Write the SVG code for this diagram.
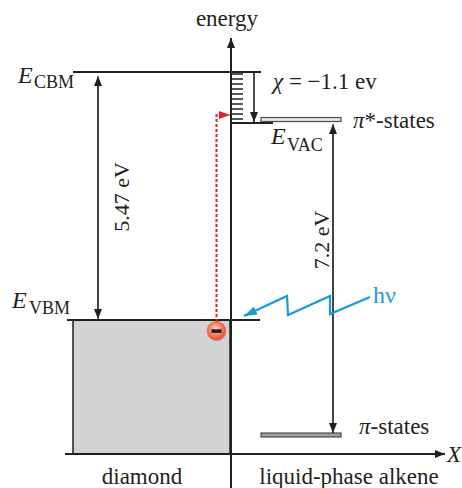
<svg xmlns="http://www.w3.org/2000/svg" width="462" height="488" viewBox="0 0 462 488">
<style>
text{font-family:"Liberation Serif","Times New Roman",serif;fill:#231f20}
.t{font-size:23px}
.s{font-size:18px}
.i{font-style:italic}
.ln{stroke:#231f20;fill:none}
.ax{stroke:#231f20;stroke-width:2;fill:none}
.thin{stroke:#231f20;stroke-width:1.2;fill:none}
</style>
<defs>
<marker id="ah" markerUnits="userSpaceOnUse" markerWidth="10" markerHeight="10" viewBox="0 0 10 10" refX="10" refY="5" orient="auto"><path d="M0,1 L10,5 L0,9 z" fill="#231f20"/></marker>
<marker id="ahr" markerUnits="userSpaceOnUse" markerWidth="11" markerHeight="10" viewBox="0 0 11 10" refX="11" refY="5" orient="auto"><path d="M0,1 L11,5 L0,9 z" fill="#e8202a"/></marker>
<marker id="ahb" markerUnits="userSpaceOnUse" markerWidth="13" markerHeight="11" viewBox="0 0 13 11" refX="13" refY="5.5" orient="auto"><path d="M0,1 L13,5.5 L0,10 z" fill="#1b9ad6"/></marker>
<radialGradient id="eg" cx="0.45" cy="0.4" r="0.6">
<stop offset="0" stop-color="#fcd3c2"/>
<stop offset="0.6" stop-color="#f07a5a"/>
<stop offset="1" stop-color="#e2482c"/>
</radialGradient>
</defs>

<g id="diamond-box">
<rect x="73" y="320" width="157" height="134" fill="#d1d3d4" stroke="#231f20" stroke-width="1.5"/>
</g>

<g id="axes">
<line class="ax" x1="231" y1="488" x2="231" y2="38" marker-end="url(#ah)"/>
<line class="ax" x1="65" y1="454" x2="445" y2="454" marker-end="url(#ah)"/>
<text class="t" x="227" y="26" text-anchor="middle">energy</text>
<text class="t i" x="447" y="462">X</text>
</g>

<g id="cbm">
<line class="ln" stroke-width="1.8" x1="73" y1="72" x2="261" y2="72"/>
<text class="i" x="18" y="83" style="font-size:24px">E</text>
<text class="s" x="34" y="88">CBM</text>
<path class="ln" stroke-width="1.5" d="M231,74h12M231,79h12M231,84h12M231,89h12M231,94h12M231,99h12M231,104h12M231,109h12M231,114h12M231,119h12"/>
</g>

<g id="vbm">
<line class="ln" stroke-width="1.8" x1="67" y1="320" x2="260" y2="320"/>
<text class="i" x="12" y="308" style="font-size:24px">E</text>
<text class="s" x="29" y="314">VBM</text>
</g>

<g id="evac">
<line class="ln" stroke-width="2" x1="231" y1="123" x2="273" y2="123"/>
<text class="i" x="271" y="144" style="font-size:24px">E</text>
<text class="s" x="287" y="151">VAC</text>
</g>

<g id="pi-star">
<rect x="261" y="117.5" width="80" height="4" fill="#e6e7e8" stroke="#4d4d4f" stroke-width="1.2"/>
<text class="t" x="353" y="128"><tspan class="i">π</tspan>*-states</text>
</g>

<g id="pi">
<rect x="261" y="433" width="80" height="4" fill="#9d9fa2" stroke="#4d4d4f" stroke-width="1.2"/>
<text class="t" x="359" y="434"><tspan class="i">π</tspan>-states</text>
</g>

<g id="electron">
<circle cx="216.5" cy="331" r="9.5" fill="url(#eg)" stroke="#ee7a5c" stroke-width="1"/>
<rect x="211.5" y="329.3" width="10" height="3.6" fill="#231f20"/>
</g>

<g id="photon">
<text x="373" y="303" style="font-size:24px;fill:#1b9ad6">hν</text>
</g>

<g id="connectors">
<line class="thin" x1="98" y1="316" x2="98" y2="76" marker-end="url(#ah)"/>
<line class="thin" x1="98" y1="78" x2="98" y2="319" marker-end="url(#ah)"/>
<line class="thin" x1="333" y1="433" x2="333" y2="124" marker-end="url(#ah)"/>
<line class="thin" x1="333" y1="126" x2="333" y2="433" marker-end="url(#ah)"/>
<line class="ln" stroke-width="1.6" x1="254" y1="73" x2="254" y2="122" marker-end="url(#ah)"/>
<path d="M216.5,322 V115 H230" fill="none" stroke="#e8202a" stroke-width="2" stroke-dasharray="3,2" marker-end="url(#ahr)"/>
<path d="M370,297 L330,314 L330,296 L288,315 L287,296 L244,316" fill="none" stroke="#1b9ad6" stroke-width="2.2" marker-end="url(#ahb)"/>
</g>

<g id="labels">
<text class="t" x="273" y="89"><tspan class="i">χ</tspan> = −1.1 ev</text>
<text style="font-size:22px" transform="translate(129,197) rotate(-90)" text-anchor="middle">5.47 eV</text>
<text style="font-size:22px" transform="translate(329,240) rotate(-90)" text-anchor="middle">7.2 eV</text>
<text class="t" x="142" y="484" text-anchor="middle">diamond</text>
<text class="t" x="349" y="484" text-anchor="middle">liquid-phase alkene</text>
</g>
</svg>
